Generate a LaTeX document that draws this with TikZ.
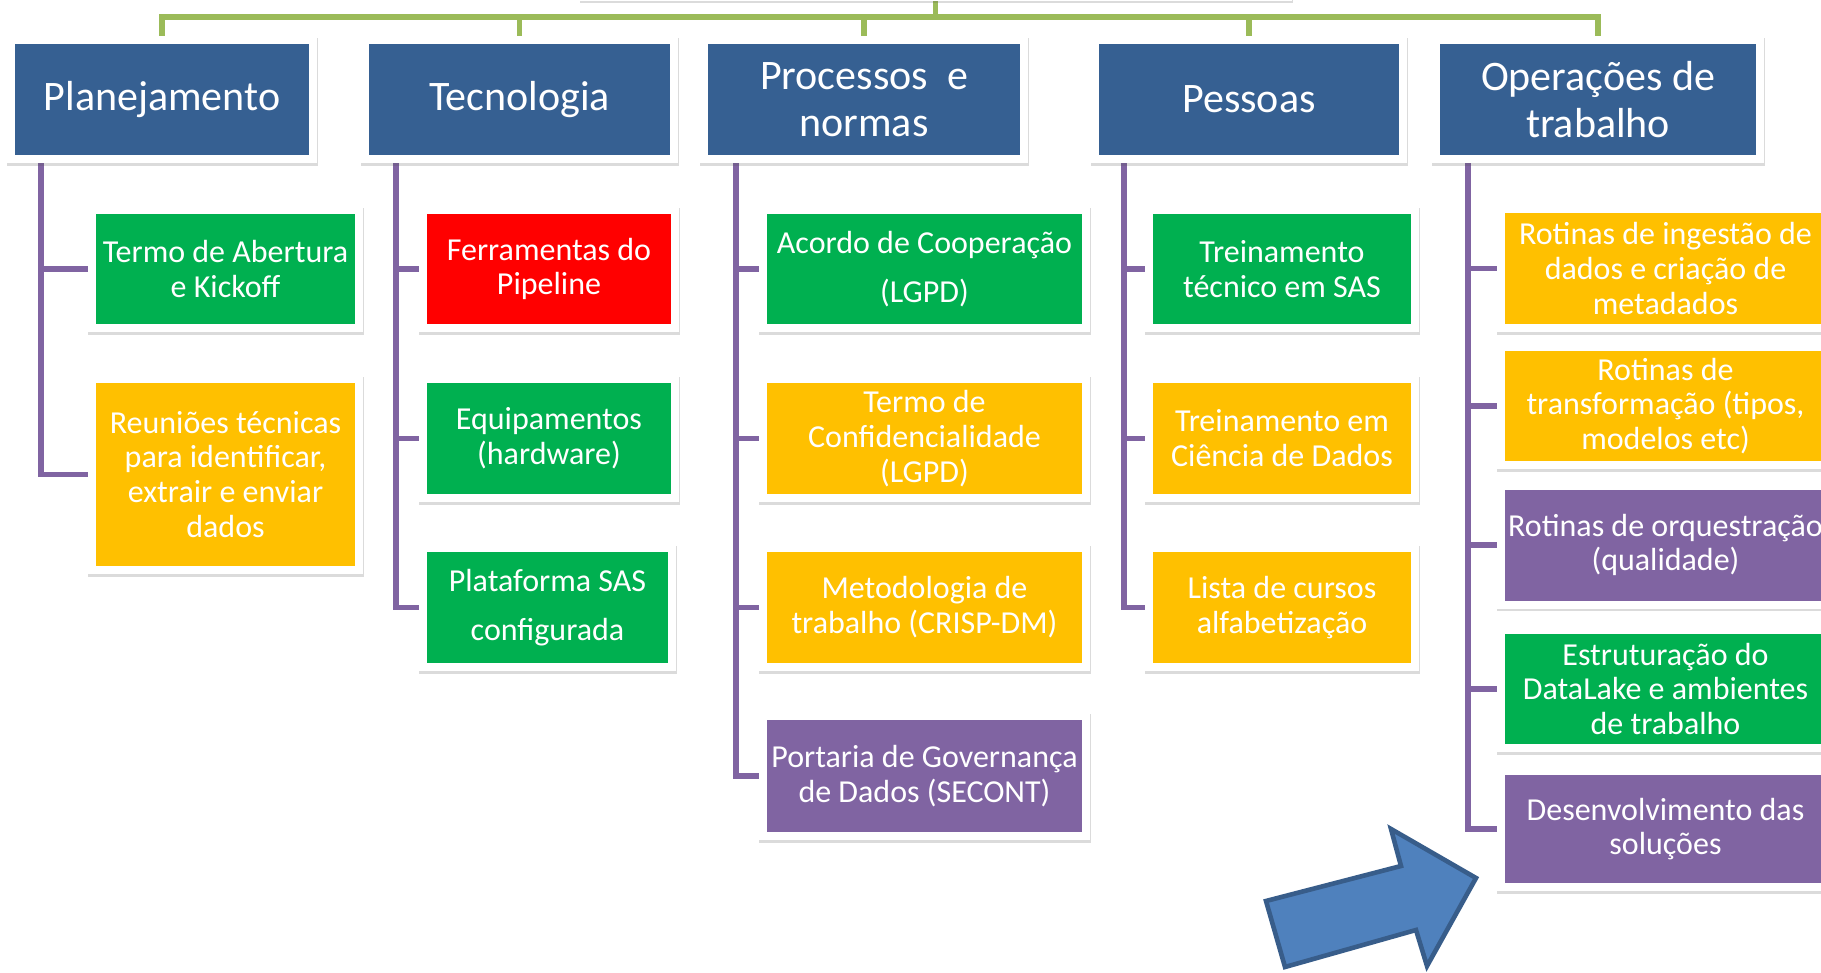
\documentclass[tikz,border=0pt]{standalone}
\usepackage{fontspec}
\setmainfont{Carlito}
\usetikzlibrary{calc,shadows}
\definecolor{hdrblue}{HTML}{366092}
\definecolor{cgreen}{HTML}{00B050}
\definecolor{cyellow}{HTML}{FFC000}
\definecolor{cred}{HTML}{FF0000}
\definecolor{cpurple}{HTML}{8064A2}
\definecolor{lgreen}{HTML}{9BBB59}
\definecolor{arrfill}{HTML}{4F81BD}
\definecolor{arredge}{HTML}{385D8A}
\pgfdeclarelayer{bgfill}
\pgfdeclarelayer{back}
\pgfdeclarelayer{frames}
\pgfsetlayers{bgfill,back,frames,main}
\tikzset{
  sz/.style 2 args={minimum width=#1*0.5pt, minimum height=#2*0.5pt},
  hdr/.style={fill=hdrblue, text=white, inner sep=0pt, align=center,
    font=\fontsize{21}{23.2}\selectfont},
  kid/.style={fill=#1, text=white, inner sep=0pt, align=center,
    font=\fontsize{16}{17.4}\selectfont},
  framebox/.style={fill=white, drop shadow={shadow xshift=0.4pt, shadow yshift=-1.2pt, opacity=0.2, fill=black!70}},
  gline/.style={draw=lgreen, line width=2.8pt},
  pline/.style={draw=cpurple, line width=2.9pt},
  bigarrow/.style={fill=arrfill, draw=arredge, line width=2.3pt, line join=miter}
}
\begin{document}
\begin{tikzpicture}[x=0.5pt,y=-0.5pt]
\begin{pgfonlayer}{bgfill}
\fill[white] (0,0) rectangle (1821,973);
\end{pgfonlayer}
\useasboundingbox (0,0) rectangle (1821,973);

% top (cut-off) box
\begin{pgfonlayer}{frames}
\node[framebox, sz={713}{60}, inner sep=0pt] (top) at (935.5,-29) {};
\end{pgfonlayer}

% headers
\node[hdr, sz={294}{111}] (H1) at (162,99.5) {Planejamento};
\node[hdr, sz={301}{111}] (H2) at (519.5,99.5) {Tecnologia};
\node[hdr, sz={312}{111}] (H3) at (864,99.5) {Processos\ \ e\\normas};
\node[hdr, sz={300}{111}] (H4) at (1249,99.5) {Pessoas};
\node[hdr, sz={316}{111}] (H5) at (1598,99.5) {Operações de\\trabalho};

% column 1
\node[kid=cgreen, sz={259}{110}] (C11) at (225.5,269) {Termo de Abertura\\e Kickoff};
\node[kid=cyellow, sz={259}{183}] (C12) at (225.5,474.5) {Reuniões técnicas\\para identificar,\\extrair e enviar\\dados};
% column 2
\node[kid=cred, sz={244}{110}] (C21) at (549,269) {Ferramentas do\\Pipeline};
\node[kid=cgreen, sz={244}{111}] (C22) at (549,438.5) {Equipamentos\\(hardware)};
\node[kid=cgreen, sz={241}{111}] (C23) at (547.5,607.5) {Plataforma SAS\\[7pt]configurada};
% column 3
\node[kid=cgreen, sz={315}{110}] (C31) at (924.5,269) {Acordo de Cooperação\\[7pt](LGPD)};
\node[kid=cyellow, sz={315}{111}] (C32) at (924.5,438.5) {Termo de\\Confidencialidade\\(LGPD)};
\node[kid=cyellow, sz={315}{111}] (C33) at (924.5,607.5) {Metodologia de\\trabalho (CRISP-DM)};
\node[kid=cpurple, sz={315}{112}] (C34) at (924.5,776) {Portaria de Governança\\de Dados (SECONT)};
% column 4
\node[kid=cgreen, sz={258}{110}] (C41) at (1282,269) {Treinamento\\técnico em SAS};
\node[kid=cyellow, sz={258}{111}] (C42) at (1282,438.5) {Treinamento em\\Ciência de Dados};
\node[kid=cyellow, sz={258}{111}] (C43) at (1282,607.5) {Lista de cursos\\alfabetização};
% column 5
\node[kid=cyellow, sz={321}{111}] (C51) at (1665.5,268.5) {Rotinas de ingestão de\\dados e criação de\\metadados};
\node[kid=cyellow, sz={321}{110}] (C52) at (1665.5,406) {Rotinas de\\transformação (tipos,\\modelos etc)};
\node[kid=cpurple, sz={321}{111}] (C53) at (1665.5,545) {Rotinas de orquestração\\(qualidade)};
\node[kid=cgreen, sz={321}{110}] (C54) at (1665.5,689) {Estruturação do\\DataLake e ambientes\\de trabalho};
\node[kid=cpurple, sz={321}{108}] (C55) at (1665.5,829) {Desenvolvimento das\\soluções};

% white frames with shadows
\begin{pgfonlayer}{frames}
\foreach \n in {H1,H2,H3,H4,H5,C11,C12,C21,C22,C23,C31,C32,C33,C34,C41,C42,C43,C51,C52,C53,C54,C55}
  \fill[framebox] ($(\n.north west)+(-8,-8)$) rectangle ($(\n.south east)+(8,8)$);
\end{pgfonlayer}

% connectors
\coordinate (T1) at (41,163);
\coordinate (T2) at (396,163);
\coordinate (T3) at (736,163);
\coordinate (T4) at (1124,163);
\coordinate (T5) at (1468,163);
\begin{pgfonlayer}{back}
\draw[gline] (top.south) -- ++(0,15.5) coordinate (hub);
\foreach \h in {H1,H2,H3,H4,H5}
  \draw[gline] (hub) -| ($(\h.north)+(0,-8)$);
% column 1
\draw[pline] (T1) |- ($(C12.west)+(-8,0)$);
\draw[pline] (T1 |- C11.west) -- ($(C11.west)+(-8,0)$);
% column 2
\draw[pline] (T2) |- ($(C23.west)+(-8,0)$);
\foreach \c in {C21,C22}
  \draw[pline] (T2 |- \c.west) -- ($(\c.west)+(-8,0)$);
% column 3
\draw[pline] (T3) |- ($(C34.west)+(-8,0)$);
\foreach \c in {C31,C32,C33}
  \draw[pline] (T3 |- \c.west) -- ($(\c.west)+(-8,0)$);
% column 4
\draw[pline] (T4) |- ($(C43.west)+(-8,0)$);
\foreach \c in {C41,C42}
  \draw[pline] (T4 |- \c.west) -- ($(\c.west)+(-8,0)$);
% column 5
\draw[pline] (T5) |- ($(C55.west)+(-8,0)$);
\foreach \c in {C51,C52,C53,C54}
  \draw[pline] (T5 |- \c.west) -- ($(\c.west)+(-8,0)$);
\end{pgfonlayer}

% block arrow
\draw[bigarrow] (1266,901) -- (1401,866) -- (1391,829) -- (1476,878) -- (1427,966) -- (1416,930) -- (1285,967) -- cycle;
\end{tikzpicture}
\end{document}
